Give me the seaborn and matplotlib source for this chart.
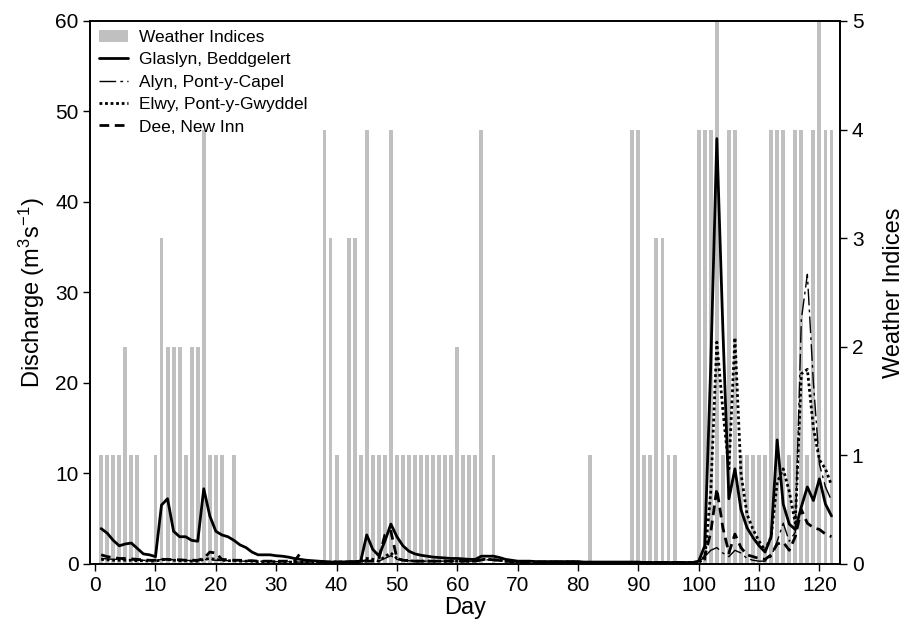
import numpy as np
import pandas as pd
import matplotlib
matplotlib.use("Agg")
import matplotlib.pyplot as plt
import seaborn as sns
from matplotlib.patches import Patch
from matplotlib.lines import Line2D

# day numbers (1..122)
days = list(range(1, 123))

# weather index per day (right axis, 0-5)
weather = [1, 1, 1, 1, 2, 1, 1, 0, 0, 1,
           3, 2, 2, 2, 1, 2, 2, 4, 1, 1,
           1, 0, 1, 0, 0, 0, 0, 0, 0, 0,
           0, 0, 0, 0, 0, 0, 0, 4, 3, 1,
           0, 3, 3, 1, 4, 1, 1, 1, 4, 1,
           1, 1, 1, 1, 1, 1, 1, 1, 1, 2,
           1, 1, 1, 4, 0, 1, 0, 0, 0, 0,
           0, 0, 0, 0, 0, 0, 0, 0, 0, 0,
           0, 1, 0, 0, 0, 0, 0, 0, 4, 4,
           1, 1, 3, 3, 1, 1, 0, 0, 0, 4,
           4, 4, 5, 1, 4, 4, 1, 1, 1, 1,
           1, 4, 4, 4, 1, 4, 4, 1, 4, 5,
           4, 4]

# discharge (m3/s) per day
glaslyn = [3.9, 3.4, 2.6, 2.0, 2.2, 2.3, 1.7, 1.1, 1.0, 0.8,
           6.5, 7.2, 3.6, 3.0, 3.0, 2.6, 2.5, 8.3, 5.3, 3.6,
           3.2, 3.0, 2.6, 2.1, 1.8, 1.3, 1.0, 1.0, 1.0, 0.9,
           0.85, 0.75, 0.6, 0.5, 0.4, 0.35, 0.3, 0.25, 0.2, 0.2,
           0.2, 0.25, 0.25, 0.3, 3.2, 1.6, 0.9, 2.5, 4.4, 3.0,
           2.0, 1.4, 1.1, 0.95, 0.85, 0.75, 0.7, 0.65, 0.6, 0.6,
           0.55, 0.5, 0.5, 0.85, 0.85, 0.85, 0.7, 0.5, 0.4, 0.3,
           0.3, 0.3, 0.25, 0.25, 0.25, 0.25, 0.25, 0.25, 0.25, 0.25,
           0.2, 0.2, 0.2, 0.2, 0.2, 0.2, 0.2, 0.2, 0.2, 0.2,
           0.15, 0.15, 0.15, 0.15, 0.15, 0.15, 0.15, 0.15, 0.15, 0.3,
           2.0, 22.0, 47.0, 26.0, 7.2, 10.5, 6.0, 4.0, 2.9, 2.0,
           1.3, 3.0, 13.7, 6.6, 4.4, 3.8, 6.3, 8.5, 7.0, 9.4,
           6.6, 5.3]

alyn = [0.6, 0.55, 0.5, 0.5, 0.45, 0.45, 0.4, 0.4, 0.35, 0.35,
        0.5, 0.5, 0.45, 0.4, 0.4, 0.35, 0.35, 0.5, 0.45, 0.4,
        0.4, 0.35, 0.35, 0.3, 0.3, 0.3, 0.3, 0.25, 0.25, 0.25,
        0.25, 0.25, 0.2, 0.2, 0.2, 0.2, 0.2, 0.2, 0.2, 0.2,
        0.2, 0.2, 0.2, 0.2, 0.5, 0.4, 0.3, 0.6, 0.9, 0.5,
        0.4, 0.35, 0.3, 0.3, 0.3, 0.3, 0.3, 0.3, 0.3, 0.3,
        0.3, 0.3, 0.3, 0.4, 0.45, 0.4, 0.35, 0.3, 0.25, 0.2,
        0.2, 0.2, 0.2, 0.2, 0.2, 0.2, 0.2, 0.2, 0.2, 0.2,
        0.15, 0.15, 0.15, 0.15, 0.15, 0.15, 0.15, 0.15, 0.15, 0.15,
        0.15, 0.15, 0.15, 0.15, 0.15, 0.15, 0.15, 0.15, 0.15, 0.2,
        0.8, 1.5, 1.8, 1.2, 0.8, 1.5, 1.2, 0.6, 0.4, 0.3,
        0.3, 0.8, 2.5, 4.5, 2.5, 3.5, 27.0, 32.0, 20.0, 11.0,
        8.5, 7.0]

elwy = [0.5, 0.45, 0.4, 0.4, 0.4, 0.4, 0.35, 0.35, 0.3, 0.3,
        0.45, 0.5, 0.4, 0.35, 0.35, 0.3, 0.3, 0.5, 0.6, 0.5,
        0.4, 0.35, 0.35, 0.3, 0.3, 0.3, 0.25, 0.25, 0.25, 0.25,
        0.2, 0.2, 0.2, 0.2, 0.2, 0.2, 0.2, 0.2, 0.2, 0.2,
        0.2, 0.2, 0.2, 0.2, 0.6, 0.5, 0.3, 0.8, 1.2, 0.6,
        0.4, 0.35, 0.3, 0.3, 0.3, 0.3, 0.3, 0.3, 0.3, 0.3,
        0.3, 0.3, 0.3, 0.5, 0.5, 0.45, 0.4, 0.3, 0.25, 0.2,
        0.2, 0.2, 0.2, 0.2, 0.2, 0.2, 0.2, 0.2, 0.2, 0.2,
        0.15, 0.15, 0.15, 0.15, 0.15, 0.15, 0.15, 0.15, 0.15, 0.15,
        0.15, 0.15, 0.15, 0.15, 0.15, 0.15, 0.15, 0.15, 0.15, 0.2,
        0.5, 8.0, 24.5, 17.0, 10.5, 25.0, 10.0, 5.5, 3.8, 2.5,
        1.5, 3.0, 9.0, 10.5, 8.0, 4.5, 21.0, 21.5, 15.0, 11.5,
        10.5, 8.7]

dee = [1.0, 0.8, 0.7, 0.6, 0.6, 0.55, 0.5, 0.45, 0.4, 0.4,
       0.5, 0.5, 0.45, 0.45, 0.4, 0.4, 0.4, 0.6, 1.3, 1.2,
       0.5, 0.45, 0.4, 0.4, 0.35, 0.35, 0.3, 0.3, 0.3, 0.3,
       0.3, 0.3, 0.25, 1.2, np.nan, np.nan, 0.25, 0.2, 0.2, 0.2,
       0.2, 0.2, 0.2, 0.25, 0.3, 0.3, 0.5, 3.2, 3.6, 0.6,
       0.4, 0.35, 0.3, 0.3, 0.3, 0.3, 0.3, 0.3, 0.3, 0.3,
       0.3, 0.3, 0.3, 0.45, 0.5, 0.45, 0.4, 0.3, 0.25, 0.2,
       0.2, 0.2, 0.2, 0.2, 0.2, 0.2, 0.2, 0.2, 0.2, 0.2,
       0.15, 0.15, 0.15, 0.15, 0.15, 0.15, 0.15, 0.15, 0.15, 0.15,
       0.15, 0.15, 0.15, 0.15, 0.15, 0.15, 0.15, 0.15, 0.15, 0.2,
       0.8, 3.5, 8.3, 4.0, 1.2, 3.3, 1.8, 1.0, 0.8, 0.6,
       0.5, 1.0, 2.2, 2.4, 1.5, 3.0, 6.0, 4.5, 4.0, 3.8,
       3.3, 3.0]

labels = ["Weather Indices", "Glaslyn, Beddgelert", "Alyn, Pont-y-Capel",
          "Elwy, Pont-y-Gwyddel", "Dee, New Inn"]

sns.set_style("ticks", {"axes.edgecolor": "black", "xtick.color": "black",
                        "ytick.color": "black", "text.color": "black",
                        "axes.labelcolor": "black"})
plt.rcParams["font.family"] = ["Liberation Sans", "DejaVu Sans"]
plt.rcParams["mathtext.fontset"] = "custom"
plt.rcParams["mathtext.rm"] = "Liberation Sans"
plt.rcParams["mathtext.it"] = "Liberation Sans:italic"

fig = plt.figure(figsize=(9.12, 6.35), dpi=100)
ax = fig.add_axes([0.099, 0.112, 0.822, 0.855])
ax2 = ax.twinx()

bar_gray = "#c0c0c0"
sns.barplot(x=days, y=weather, native_scale=True, width=0.65, color=bar_gray,
            saturation=1, linewidth=0, errorbar=None, ax=ax2)

# Dee has a gap in the record after day 34
df = pd.DataFrame({"day": days, "dee": dee})
df["seg"] = (df["dee"].isna()).cumsum()
df = df.dropna()

sns.lineplot(x=days, y=glaslyn, ax=ax, color="black", linewidth=2)
sns.lineplot(x=days, y=alyn, ax=ax, color="black", linewidth=1,
             linestyle=(0, (12, 3, 2, 3)))
sns.lineplot(x=days, y=elwy, ax=ax, color="black", linewidth=2,
             linestyle=(0, (1, 1)))
sns.lineplot(data=df, x="day", y="dee", units="seg", estimator=None, ax=ax,
             color="black", linewidth=2, linestyle=(0, (3.5, 2)))

ax.set_zorder(ax2.get_zorder() + 1)
ax.patch.set_visible(False)

ax.set_xlim(-0.8, 123.4)
ax.set_ylim(0, 60)
ax2.set_ylim(0, 5)
ax.set_xticks(range(0, 121, 10))
ax.set_yticks(range(0, 61, 10))
ax2.set_yticks(range(0, 6))

ax.set_xlabel("Day", fontsize=17, labelpad=2)
ax.set_ylabel("Discharge (m$^3$s$^{-1}$)", fontsize=17, labelpad=6)
ax2.set_ylabel("Weather Indices", fontsize=17, labelpad=14)

for a in (ax, ax2):
    a.tick_params(direction="out", length=5, width=1, labelsize=15)
    for s in a.spines.values():
        s.set_visible(True)
        s.set_linewidth(1.2)
        s.set_color("black")

handles = [Patch(facecolor=bar_gray, edgecolor="none"),
           Line2D([], [], color="black", linewidth=2),
           Line2D([], [], color="black", linewidth=1, linestyle=(0, (12, 3, 2, 3))),
           Line2D([], [], color="black", linewidth=2, linestyle=(0, (1, 1))),
           Line2D([], [], color="black", linewidth=2, linestyle=(0, (3.5, 2)))]
ax.legend(handles, labels, loc="upper left", frameon=False, fontsize=12.5,
          handlelength=1.7, handletextpad=0.6, labelspacing=0.42,
          borderaxespad=0.1)

fig.savefig("out.png", dpi=100)
